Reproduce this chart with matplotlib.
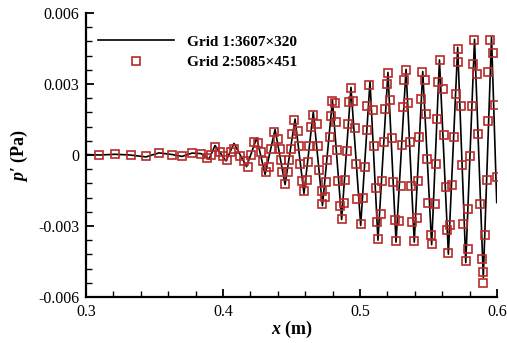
import matplotlib
matplotlib.use("Agg")
import matplotlib.pyplot as plt
from matplotlib.ticker import MultipleLocator, FixedLocator

plt.rcParams['font.family'] = ['Liberation Serif', 'DejaVu Serif']
plt.rcParams['mathtext.fontset'] = 'custom'
plt.rcParams['mathtext.it'] = 'Liberation Serif:italic:bold'
plt.rcParams['mathtext.rm'] = 'Liberation Serif:bold'
plt.rcParams['mathtext.bf'] = 'Liberation Serif:bold'

# Grid 1 (line): extrema of the pressure-fluctuation curve
grid1_x = [0.3000, 0.3102, 0.3212, 0.3321, 0.3438, 0.3533, 0.3628, 0.3701, 0.3774,
           0.3839, 0.3898, 0.3942, 0.4022, 0.4080, 0.4172, 0.4246, 0.4307, 0.4380,
           0.4453, 0.4526, 0.4591, 0.4659, 0.4726, 0.4799, 0.4866, 0.4934, 0.5005,
           0.5073, 0.5131, 0.5204, 0.5263, 0.5336, 0.5396, 0.5458, 0.5523, 0.5580,
           0.5645, 0.5713, 0.5772, 0.5836, 0.5900, 0.5960, 0.5998]
grid1_p = [0.00002, 0.00000, 0.00003, 0.00000, -0.00008, 0.00009, 0.00002, -0.00006, 0.00008,
           0.00006, -0.00017, 0.00040, -0.00025, 0.00049, -0.00049, 0.00072, -0.00082, 0.00108,
           -0.00125, 0.00152, -0.00163, 0.00182, -0.00214, 0.00231, -0.00273, 0.00286, -0.00298,
           0.00311, -0.00360, 0.00349, -0.00368, 0.00362, -0.00368, 0.00353, -0.00379, 0.00402,
           -0.00419, 0.00455, -0.00455, 0.00489, -0.00518, 0.00499, -0.00201]

# Grid 2 (symbols)
grid2_x = [0.3095, 0.3212, 0.3325, 0.3438, 0.3533, 0.3628, 0.3701, 0.3777, 0.3843, 0.3883,
           0.3913, 0.3942, 0.3978, 0.4000, 0.4029, 0.4059, 0.4080, 0.4124, 0.4153, 0.4183,
           0.4208, 0.4223, 0.4252, 0.4278, 0.4292, 0.4314, 0.4336, 0.4351, 0.4375, 0.4404,
           0.4413, 0.4420, 0.4429, 0.4453, 0.4477, 0.4482, 0.4497, 0.4502, 0.4521, 0.4545,
           0.4555, 0.4562, 0.4575, 0.4591, 0.4611, 0.4623, 0.4630, 0.4643, 0.4659, 0.4684,
           0.4691, 0.4701, 0.4721, 0.4725, 0.4745, 0.4752, 0.4762, 0.4781, 0.4787, 0.4794,
           0.4818, 0.4824, 0.4835, 0.4842, 0.4854, 0.4867, 0.4883, 0.4891, 0.4908, 0.4915,
           0.4920, 0.4932, 0.4951, 0.4964, 0.4971, 0.4981, 0.5005, 0.5024, 0.5037, 0.5049,
           0.5054, 0.5068, 0.5093, 0.5102, 0.5117, 0.5127, 0.5132, 0.5154, 0.5163, 0.5178,
           0.5183, 0.5195, 0.5202, 0.5219, 0.5232, 0.5243, 0.5256, 0.5261, 0.5285, 0.5300,
           0.5305, 0.5316, 0.5324, 0.5334, 0.5353, 0.5365, 0.5373, 0.5382, 0.5397, 0.5414,
           0.5426, 0.5433, 0.5446, 0.5451, 0.5475, 0.5480, 0.5492, 0.5499, 0.5519, 0.5524,
           0.5548, 0.5553, 0.5560, 0.5567, 0.5584, 0.5608, 0.5616, 0.5626, 0.5633, 0.5645,
           0.5657, 0.5670, 0.5689, 0.5699, 0.5713, 0.5718, 0.5738, 0.5743, 0.5754, 0.5772,
           0.5786, 0.5791, 0.5803, 0.5820, 0.5827, 0.5835, 0.5852, 0.5864, 0.5876, 0.5889,
           0.5896, 0.5900, 0.5913, 0.5925, 0.5932, 0.5937, 0.5949, 0.5973, 0.5986, 0.5998]
grid2_p = [0.00001, 0.00004, 0.00001, -0.00006, 0.00008, 0.00002, -0.00004, 0.00008, 0.00006, -0.00013,
           -0.00002, 0.00034, 0.00011, -0.00006, -0.00023, 0.00011, 0.00027, -0.00006, -0.00027, -0.00049,
           -0.00002, 0.00053, 0.00051, 0.00011, -0.00027, -0.00072, -0.00052, 0.00026, 0.00096, 0.00069,
           0.00026, -0.00023, -0.00073, -0.00122, -0.00073, -0.00023, 0.00026, 0.00087, 0.00149, 0.00101,
           0.00036, -0.00037, -0.00108, -0.00153, -0.00105, -0.00030, 0.00040, 0.00118, 0.00171, 0.00132,
           0.00040, -0.00063, -0.00150, -0.00206, -0.00179, -0.00115, -0.00023, 0.00078, 0.00163, 0.00228,
           0.00219, 0.00139, 0.00022, -0.00108, -0.00214, -0.00270, -0.00204, -0.00105, 0.00019, 0.00132,
           0.00223, 0.00284, 0.00228, 0.00115, -0.00037, -0.00185, -0.00291, -0.00181, -0.00049, 0.00104,
           0.00209, 0.00294, 0.00191, 0.00036, -0.00139, -0.00284, -0.00354, -0.00249, -0.00108, 0.00054,
           0.00195, 0.00301, 0.00346, 0.00231, 0.00073, -0.00115, -0.00274, -0.00365, -0.00277, -0.00129,
           0.00044, 0.00202, 0.00315, 0.00360, 0.00219, 0.00054, -0.00129, -0.00284, -0.00365, -0.00266,
           -0.00108, 0.00075, 0.00238, 0.00350, 0.00315, 0.00174, -0.00016, -0.00204, -0.00336, -0.00376,
           -0.00206, -0.00037, 0.00153, 0.00308, 0.00400, 0.00280, 0.00085, -0.00136, -0.00315, -0.00414,
           -0.00295, -0.00126, 0.00078, 0.00259, 0.00449, 0.00393, 0.00209, -0.00041, -0.00291, -0.00446,
           -0.00397, -0.00228, -0.00005, 0.00209, 0.00386, 0.00484, 0.00343, 0.00090, -0.00206, -0.00439,
           -0.00541, -0.00496, -0.00338, -0.00104, 0.00142, 0.00350, 0.00484, 0.00432, 0.00212, -0.00094]

x_ticks = [0.3, 0.4, 0.5, 0.6]
x_ticklabels = ["0.3", "0.4", "0.5", "0.6"]
y_ticks = [-0.006, -0.003, 0.0, 0.003, 0.006]
y_ticklabels = ["-0.006", "-0.003", "0", "0.003", "0.006"]
label1 = "Grid 1:3607\u00d7320"
label2 = "Grid 2:5085\u00d7451"

W, H = 507, 343
fig = plt.figure(figsize=(W / 100, H / 100), dpi=100)
ax = fig.add_axes([86 / W, (H - 297) / H, (497 - 86) / W, (297 - 13) / H])

ax.plot(grid1_x, grid1_p, color='black', lw=1.2, label=label1, zorder=2)
ax.plot(grid2_x, grid2_p, ls='none', marker='s', ms=5.6, mfc='none',
        mec='#b52a2a', mew=1.2, label=label2, zorder=3)

ax.set_xlim(0.3, 0.6)
ax.set_ylim(-0.006, 0.006)
ax.xaxis.set_major_locator(FixedLocator(x_ticks))
ax.set_xticklabels(x_ticklabels)
ax.yaxis.set_major_locator(FixedLocator(y_ticks))
ax.set_yticklabels(y_ticklabels)
ax.xaxis.set_minor_locator(MultipleLocator(0.02))
ax.yaxis.set_minor_locator(MultipleLocator(0.0006))

for s in ['top', 'right']:
    ax.spines[s].set_visible(False)
for s in ['left', 'bottom']:
    ax.spines[s].set_linewidth(1.6)

ax.tick_params(which='both', direction='in', top=False, right=False, labelsize=11.5)
ax.tick_params(which='major', length=6, width=1.3)
ax.tick_params(which='minor', length=4, width=1.0)
ax.tick_params(axis='x', pad=5)
ax.tick_params(axis='y', pad=5)

ax.set_xlabel(r"$x$ (m)", fontsize=13, fontweight='bold', labelpad=-1)
ax.set_ylabel(r"$p$" + "\u2032 (Pa)", fontsize=13, fontweight='bold', labelpad=6)

leg = ax.legend(loc='upper left', bbox_to_anchor=(98 / W, (H - 35) / H),
                bbox_transform=fig.transFigure, frameon=False, borderpad=0,
                borderaxespad=0, handlelength=5.0, handletextpad=0.85,
                labelspacing=0.45, numpoints=1,
                prop={'family': 'Liberation Serif', 'weight': 'bold', 'size': 11})

fig.savefig("out.png", dpi=100)
